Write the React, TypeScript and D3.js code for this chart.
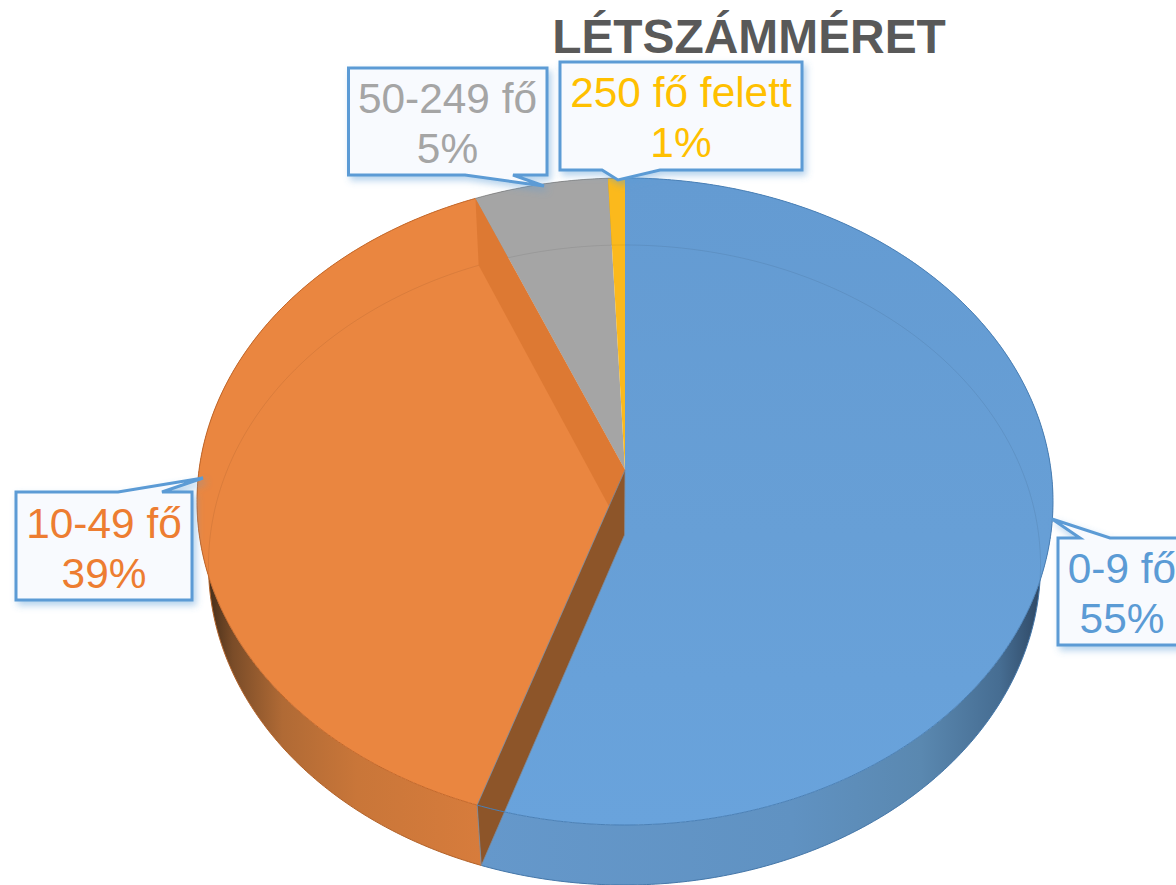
import React from 'react';
import * as d3 from 'd3';

const categories = ['0-9 fő', '10-49 fő', '50-249 fő', '250 fő felett'];
const values = [55.1, 38.65, 5.55, 0.7];
const percentLabels = ['55%', '39%', '5%', '1%'];

const textColors = ['#5b9bd5', '#ed7d31', '#a5a5a5', '#ffc000'];
const faceColors = ['url(#blueFace)', '#ea8640', '#a5a5a5', '#fbb91c'];
const sideColors = ['url(#blueSide)', 'url(#orangeSide)', '#8a8a8a', '#c99a18'];
const edgeColors = ['#4a80b6', '#c06a2c'];

// callout boxes: [x, y, w, h], pointer base a, tip, pointer base b, text centre, first baseline
const callouts = [
    { box: [1058, 538, 160, 107], ptr: [[1080, 538], [1052, 519], [1110, 538]], cx: 1122, y: 583 },
    { box: [16, 492, 176, 108], ptr: [[118, 492], [203, 478], [162, 492]], cx: 104, y: 538 },
    { box: [348.5, 68, 198.5, 107], ptr: [[465, 175], [544, 186], [513, 175]], cx: 447.5, y: 113 },
    { box: [560, 62, 242, 108], ptr: [[602, 170], [618, 180], [660, 170]], cx: 681, y: 107 },
];

type Face = { cx: number; A: number; a: number; b: number; k: number };

// homography of the unit disc onto the two pie faces (perspective view)
const makeFace = (cx: number, rx: number, top: number, apex: number, bottom: number): Face => {
    const k = (2 * apex - top - bottom) / (bottom - top);
    return { cx, A: rx * Math.sqrt(1 - k * k), a: bottom * (1 + k) - apex, b: apex, k };
};

const topFace = makeFace(625, 428, 178, 470, 825);
const bottomFace = makeFace(624.5, 416, 245, 535, 885);

const project = (f: Face, theta: number): [number, number] => {
    const x = Math.sin(theta);
    const y = -Math.cos(theta);
    const d = 1 + f.k * y;
    return [f.cx + (f.A * x) / d, (f.a * y + f.b) / d];
};

const rim = (f: Face, a0: number, a1: number): [number, number][] => {
    const n = Math.max(2, Math.ceil(Math.abs(a1 - a0) / 0.01));
    return d3.range(n + 1).map((i) => project(f, a0 + ((a1 - a0) * i) / n));
};

const line = d3.line();

const pie = d3.pie<number>().sort(null).startAngle(0).endAngle(2 * Math.PI);
const slices = pie(values);

const apexTop: [number, number] = [topFace.cx, topFace.b];
const apexBottom: [number, number] = [bottomFace.cx, bottomFace.b];

const closed = (pts: [number, number][]) => line(pts) + 'Z';

const wall = (theta: number) =>
    closed([project(topFace, theta), apexTop, apexBottom, project(bottomFace, theta)]);

export default function App() {
    const frontCut = slices[0].endAngle;
    const backCut = slices[1].endAngle;
    return (
        <svg
            width={1176}
            height={885}
            viewBox="0 0 1176 885"
            style={{ position: 'absolute', left: 0, top: 0, display: 'block', background: '#fff' }}
            fontFamily="'Liberation Sans', Arial, sans-serif"
        >
            <defs>
                <linearGradient id="blueFace" gradientUnits="userSpaceOnUse" x1="625" y1="178" x2="625" y2="825">
                    <stop offset="0" stopColor="#649bd2" />
                    <stop offset="0.55" stopColor="#679fd6" />
                    <stop offset="1" stopColor="#69a3dc" />
                </linearGradient>
                <linearGradient id="blueSide" gradientUnits="userSpaceOnUse" x1="482" y1="0" x2="1045" y2="0">
                    <stop offset="0" stopColor="#6598cb" />
                    <stop offset="0.55" stopColor="#6092c2" />
                    <stop offset="0.78" stopColor="#5a88b0" />
                    <stop offset="0.92" stopColor="#466d92" />
                    <stop offset="1" stopColor="#2c4460" />
                </linearGradient>
                <linearGradient id="orangeSide" gradientUnits="userSpaceOnUse" x1="205" y1="0" x2="482" y2="0">
                    <stop offset="0" stopColor="#3f2a18" />
                    <stop offset="0.1" stopColor="#7a4c28" />
                    <stop offset="0.28" stopColor="#b06a35" />
                    <stop offset="0.55" stopColor="#c97639" />
                    <stop offset="1" stopColor="#d77c3c" />
                </linearGradient>
                <filter id="boxShadow" x="-10%" y="-10%" width="125%" height="130%">
                    <feDropShadow dx="3" dy="4" stdDeviation="3.5" floodColor="#5b9bd5" floodOpacity="0.45" />
                </filter>
            </defs>

            {/* side band of each slice, under the top face */}
            {slices.map((s, i) => (
                <path
                    key={`side-${i}`}
                    d={closed([...rim(topFace, s.startAngle, s.endAngle), ...rim(bottomFace, s.endAngle, s.startAngle)])}
                    fill={sideColors[i]}
                />
            ))}

            {/* outer edge of the front bands */}
            {slices.slice(0, 2).map((s, i) => (
                <path
                    key={`edge-${i}`}
                    d={line(rim(bottomFace, s.startAngle, s.endAngle))}
                    fill="none"
                    stroke={edgeColors[i]}
                    strokeWidth={1}
                />
            ))}

            {/* top faces */}
            {slices.map((s, i) => (
                <path
                    key={`face-${i}`}
                    d={closed([apexTop, ...rim(topFace, s.startAngle, s.endAngle)])}
                    fill={faceColors[i]}
                />
            ))}

            {/* bottom circle seen through the glass top */}
            <path
                d={closed(rim(bottomFace, 0, 2 * Math.PI))}
                fill="none"
                stroke="#000"
                strokeOpacity={0.07}
                strokeWidth={1}
            />

            {/* cut walls */}
            <path d={wall(backCut)} fill="#dd7933" />
            <path d={wall(frontCut)} fill="#8d5529" stroke="#7a8ca0" strokeWidth={0.8} />

            {/* rim lines */}
            <path d={line(rim(topFace, 0, frontCut))} fill="none" stroke="#4a80b6" strokeWidth={1} />
            <path d={line(rim(topFace, frontCut, backCut))} fill="none" stroke="#c4682a" strokeWidth={1} />
            <path d={line(rim(topFace, backCut, 2 * Math.PI))} fill="none" stroke="#777" strokeWidth={0.7} />

            {/* callouts */}
            {callouts.map((c, i) => {
                const [x, y, w, h] = c.box;
                const side = c.ptr[0][1] === y ? 'top' : 'bottom';
                const outline =
                    side === 'top'
                        ? [[x, y], ...c.ptr, [x + w, y], [x + w, y + h], [x, y + h]]
                        : [[x, y], [x + w, y], [x + w, y + h], ...[...c.ptr].reverse(), [x, y + h]];
                return (
                    <g key={categories[i]}>
                        <path
                            d={closed(outline as [number, number][])}
                            fill="#f8fafe"
                            stroke="#5b9bd5"
                            strokeWidth={3}
                            strokeLinejoin="miter"
                            filter="url(#boxShadow)"
                        />
                        <text x={c.cx} y={c.y} textAnchor="middle" fontSize={42.4} fill={textColors[i]}>
                            {categories[i]}
                        </text>
                        <text x={c.cx} y={c.y + 50} textAnchor="middle" fontSize={42.4} fill={textColors[i]}>
                            {percentLabels[i]}
                        </text>
                    </g>
                );
            })}

            <text x={749} y={53} textAnchor="middle" fontSize={47.9} fontWeight="bold" fill="#595959">
                LÉTSZÁMMÉRET
            </text>
        </svg>
    );
}
